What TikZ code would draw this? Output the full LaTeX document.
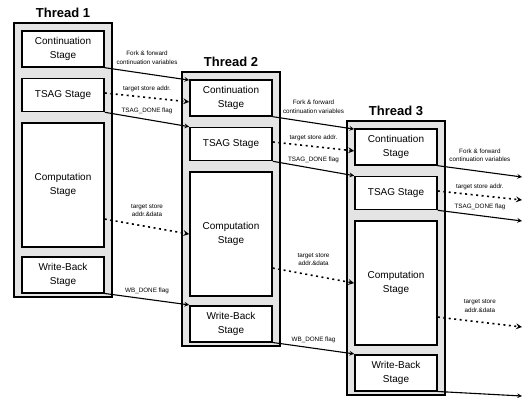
\documentclass[tikz,border=0pt]{standalone}
\usepackage{fontspec}
\setmainfont{Liberation Sans}
\usetikzlibrary{positioning, calc, arrows}
\definecolor{panelgray}{HTML}{E4E4E4}
\tikzstyle{threadbox} = [
    rectangle,
    minimum width=98pt,
    minimum height=274pt,
    inner sep=0pt,
    line width=1.8pt,
    fill=panelgray,
    draw=black
]
\tikzstyle{threadtitle} = [
    font=\fontsize{13}{15}\selectfont\bfseries,
    inner sep=1pt
]
\tikzstyle{stagebox} = [
    rectangle,
    minimum width=82pt,
    align=center,
    inner sep=1pt,
    line width=1.6pt,
    fill=white,
    draw=black,
    font=\fontsize{10}{13.5}\selectfont
]
\tikzstyle{flaglabel} = [
    align=center,
    inner sep=1pt,
    font=\fontsize{6.3}{8.5}\selectfont
]
\tikzstyle{arrow} = [line width=1.1pt,->,>=stealth]
\tikzstyle{dotarrow} = [line width=1.6pt,dash pattern=on 2pt off 3.5pt,->,>=stealth]

\begin{document}
\begin{tikzpicture}[x=1pt, y=-1pt]
\useasboundingbox (0,0) rectangle (525,399);

% Thread 1
\node (thread1) [threadbox] at (63,160) {};
\node (title1) [threadtitle, above=3pt of thread1] {Thread 1};
\node (cont1) [stagebox, minimum height=36pt, below=8pt of thread1.north] {Continuation\\Stage};
\node (tsag1) [stagebox, minimum height=33pt, below=10pt of cont1] {TSAG Stage};
\node (comp1) [stagebox, minimum height=124pt, below=10pt of tsag1] {Computation\\Stage};
\node (wb1) [stagebox, minimum height=36pt, below=8pt of comp1] {Write-Back\\Stage};

% Thread 2
\node (thread2) [threadbox] at (231,209) {};
\node (title2) [threadtitle, above=3pt of thread2] {Thread 2};
\node (cont2) [stagebox, minimum height=36pt, below=8pt of thread2.north] {Continuation\\Stage};
\node (tsag2) [stagebox, minimum height=33pt, below=10pt of cont2] {TSAG Stage};
\node (comp2) [stagebox, minimum height=124pt, below=10pt of tsag2] {Computation\\Stage};
\node (wb2) [stagebox, minimum height=36pt, below=8pt of comp2] {Write-Back\\Stage};

% Thread 3
\node (thread3) [threadbox] at (396,258) {};
\node (title3) [threadtitle, above=3pt of thread3] {Thread 3};
\node (cont3) [stagebox, minimum height=36pt, below=8pt of thread3.north] {Continuation\\Stage};
\node (tsag3) [stagebox, minimum height=33pt, below=10pt of cont3] {TSAG Stage};
\node (comp3) [stagebox, minimum height=124pt, below=10pt of tsag3] {Computation\\Stage};
\node (wb3) [stagebox, minimum height=36pt, below=8pt of comp3] {Write-Back\\Stage};

% free ends after thread 3
\coordinate (forkout) at (522,177);
\coordinate (addrout) at (522,200);
\coordinate (doneout) at (522,221);
\coordinate (dataout) at (522,327);
\coordinate (wbout) at (522,396);

% thread 1 -> thread 2
\draw [arrow] (cont1.south east) -- ($(cont2.north west)+(0,1)$)
    node [flaglabel, midway, above=8pt] (fork1) {Fork \& forward\\continuation variables};
\draw [dotarrow] ($(tsag1.east)+(0,-2)$) -- ($(cont2.west)+(0,4)$)
    node [flaglabel, midway, above=4pt] (addr1) {target store addr.};
\draw [arrow] (tsag1.south east) -- (tsag2.north west)
    node [flaglabel, midway, above=4pt] (done1) {TSAG\_DONE flag};
\draw [dotarrow] ($(comp1.east)+(0,34)$) -- (comp2.west)
    node [flaglabel, midway, above=8pt] (data1) {target store\\addr.\&data};
\draw [arrow] (wb1.south east) -- (wb2.north west)
    node [flaglabel, midway, above=4pt] (wbflag1) {WB\_DONE flag};

% thread 2 -> thread 3
\draw [arrow] (cont2.south east) -- ($(cont3.north west)+(0,1)$)
    node [flaglabel, midway, above=8pt] (fork2) {Fork \& forward\\continuation variables};
\draw [dotarrow] ($(tsag2.east)+(0,-2)$) -- ($(cont3.west)+(0,4)$)
    node [flaglabel, midway, above=4pt] (addr2) {target store addr.};
\draw [arrow] (tsag2.south east) -- (tsag3.north west)
    node [flaglabel, midway, above=4pt] (done2) {TSAG\_DONE flag};
\draw [dotarrow] ($(comp2.east)+(0,34)$) -- (comp3.west)
    node [flaglabel, midway, above=8pt] (data2) {target store\\addr.\&data};
\draw [arrow] (wb2.south east) -- (wb3.north west)
    node [flaglabel, midway, above=4pt] (wbflag2) {WB\_DONE flag};

% thread 3 -> next
\draw [arrow] (cont3.south east) -- (forkout)
    node [flaglabel, midway, above=8pt] (fork3) {Fork \& forward\\continuation variables};
\draw [dotarrow] ($(tsag3.east)+(0,-2)$) -- (addrout)
    node [flaglabel, midway, above=4pt] (addr3) {target store addr.};
\draw [arrow] (tsag3.south east) -- (doneout)
    node [flaglabel, midway, above=4pt] (done3) {TSAG\_DONE flag};
\draw [dotarrow] ($(comp3.east)+(0,34)$) -- (dataout)
    node [flaglabel, midway, above=8pt] (data3) {target store\\addr.\&data};
\draw [arrow] (wb3.south east) -- (wbout);

\end{tikzpicture}
\end{document}
